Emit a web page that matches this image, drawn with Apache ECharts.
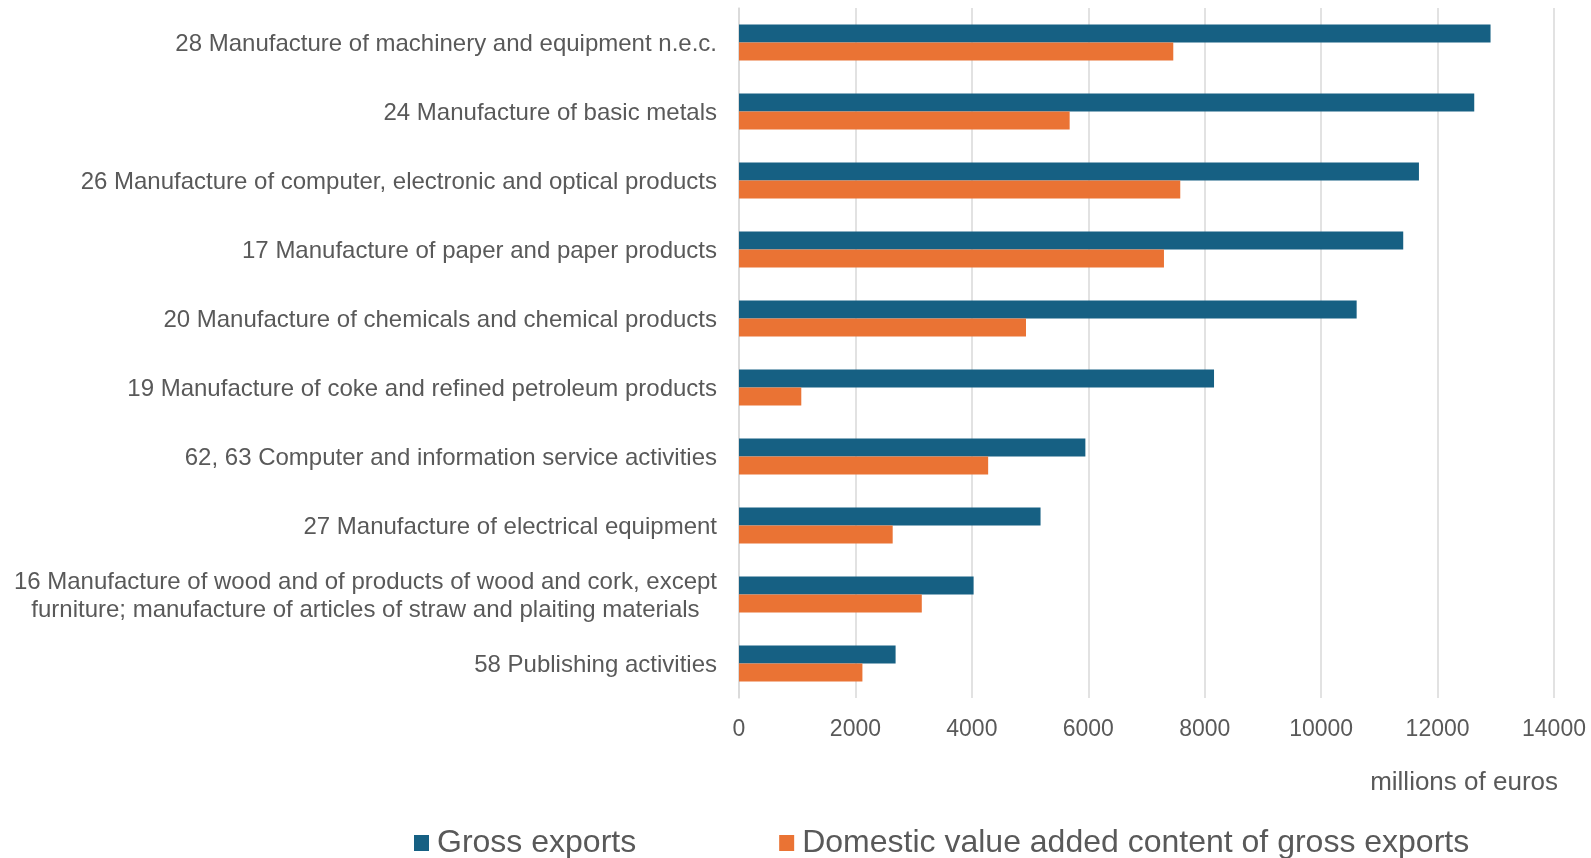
<!DOCTYPE html>
<html><head><meta charset="utf-8">
<script src="https://cdn.jsdelivr.net/npm/echarts@6/dist/echarts.min.js"></script>
<style>html,body{margin:0;padding:0;background:#fff}#c{width:1591px;height:858px}</style>
</head><body><div id="c"></div>
<script>
const categories = [
  "28 Manufacture of machinery and equipment n.e.c.",
  "24 Manufacture of basic metals",
  "26 Manufacture of computer, electronic and optical products",
  "17 Manufacture of paper and paper products",
  "20 Manufacture of chemicals and chemical products",
  "19 Manufacture of coke and refined petroleum products",
  "62, 63 Computer and information service activities",
  "27 Manufacture of electrical equipment",
  "16 Manufacture of wood and of products of wood and cork, except\nfurniture; manufacture of articles of straw and plaiting materials",
  "58 Publishing activities"
];
const grossExports = [12910, 12630, 11680, 11410, 10610, 8160, 5950, 5180, 4030, 2690];
const domesticVA   = [7460, 5680, 7580, 7300, 4930, 1070, 4280, 2640, 3140, 2120];
const xTicks = [0, 2000, 4000, 6000, 8000, 10000, 12000, 14000];
const seriesNames = ["Gross exports", "Domestic value added content of gross exports"];
const unitLabel = "millions of euros";

const chart = echarts.init(document.getElementById('c'), null, {renderer: 'canvas'});
const txt = '#595959';
const font = '"Liberation Sans", Arial, sans-serif';
chart.setOption({
  animation: false,
  textStyle: {fontFamily: font},
  grid: {left: 739, right: 37, top: 8, bottom: 160, containLabel: false},
  legend: {
    data: seriesNames,
    top: 822,
    left: 409,
    itemWidth: 15, itemHeight: 16, itemGap: 143,
    icon: 'rect',
    textStyle: {fontSize: 32, color: txt, fontFamily: font, padding: [0, 0, 0, 3]}
  },
  xAxis: {
    type: 'value', min: xTicks[0], max: xTicks[xTicks.length - 1], interval: 2000,
    axisLine: {show: false}, axisTick: {show: false},
    splitLine: {show: true, lineStyle: {color: '#D9D9D9', width: 1.5}},
    axisLabel: {color: txt, fontSize: 23, margin: 20, fontFamily: font,
      formatter: function (v) { return String(v); }}
  },
  yAxis: {
    type: 'category', data: categories, inverse: true,
    axisLine: {show: true, lineStyle: {color: '#D9D9D9', width: 1.5}},
    axisTick: {show: false},
    axisLabel: {
      color: txt, fontSize: 24, margin: 22, fontFamily: font, lineHeight: 28,
      padding: [3, 0, 0, 0],
      formatter: function (v) {
        if (v.indexOf('\n') >= 0) {
          return v.split('\n').map(function (s) { return '{c|' + s + '}'; }).join('\n');
        }
        return v;
      },
      rich: {c: {align: 'center', fontSize: 24, color: txt, lineHeight: 28, fontFamily: font}}
    }
  },
  series: [
    {name: seriesNames[0], type: 'bar', data: grossExports, barGap: '0%', barCategoryGap: '48%',
     itemStyle: {color: '#166083'}},
    {name: seriesNames[1], type: 'bar', data: domesticVA,
     itemStyle: {color: '#EA7334'}}
  ],
  graphic: [{
    type: 'text', right: 33, top: 770,
    style: {text: unitLabel, fill: txt, font: '26px ' + font, textAlign: 'right'}
  }]
});
</script></body></html>
